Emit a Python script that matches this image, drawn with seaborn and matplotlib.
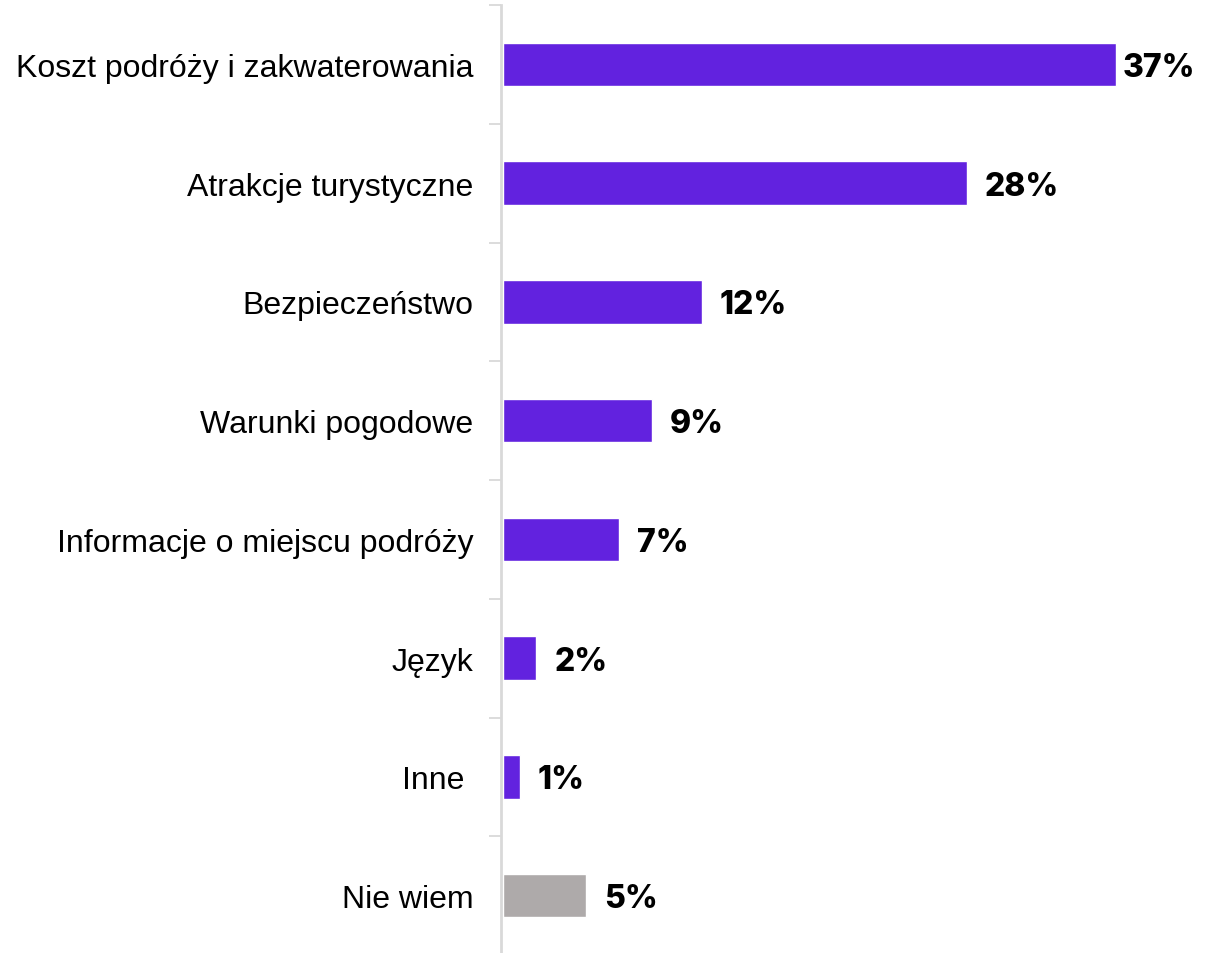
import matplotlib
matplotlib.use("Agg")
import matplotlib.pyplot as plt
import seaborn as sns
import pandas as pd

categories = [
    "Koszt podróży i zakwaterowania",
    "Atrakcje turystyczne",
    "Bezpieczeństwo",
    "Warunki pogodowe",
    "Informacje o miejscu podróży",
    "Język",
    "Inne ",
    "Nie wiem",
]
values = [37, 28, 12, 9, 7, 2, 1, 5]
value_labels = ["37%", "28%", "12%", "9%", "7%", "2%", "1%", "5%"]

PURPLE = "#6222DF"
GRAY = "#AEAAAA"
colors = [PURPLE] * 7 + [GRAY]

df = pd.DataFrame({"category": categories, "value": values})

sns.set_theme(style="white")
plt.rcParams["font.family"] = ["Liberation Sans", "DejaVu Sans"]

fig = plt.figure(figsize=(12.18, 9.54), dpi=100)
ax = fig.add_axes([501 / 1218, -2 / 954, 620 / 1218, 950 / 954])

sns.barplot(data=df, x="value", y="category", hue="category", palette=colors,
            legend=False, orient="h", width=0.365, ax=ax, saturation=1)

ax.set_xlim(-0.12, 37.3)
ax.set_ylim(len(categories) - 0.5, -0.5)
ax.set_xlabel("")
ax.set_ylabel("")
ax.set_xticks([])

# category labels on the left, separators between categories
ax.set_yticks(range(len(categories)))
ax.set_yticklabels(categories)
ax.set_yticks([i - 0.5 for i in range(len(categories))], minor=True)
ax.tick_params(axis="y", which="major", left=False, length=0, pad=20,
               labelsize=23, labelcolor="#000000")
ax.tick_params(axis="y", which="minor", left=True, length=9, width=1.3,
               color="#D9D9D9")

for side in ["top", "right", "bottom"]:
    ax.spines[side].set_visible(False)
ax.spines["left"].set_color("#D9D9D9")
ax.spines["left"].set_linewidth(2)
ax.spines["left"].set_position(("data", -0.12))

for i, (v, lab) in enumerate(zip(values, value_labels)):
    ax.annotate(lab, xy=(v, i), xytext=(18 if v < 37 else 7, -3),
                textcoords="offset pixels",
                va="center", ha="left", fontsize=23, fontweight="heavy",
                family=["Inter", "DejaVu Sans"], color="#000000",
                annotation_clip=False)

fig.savefig("out.png", dpi=100)
